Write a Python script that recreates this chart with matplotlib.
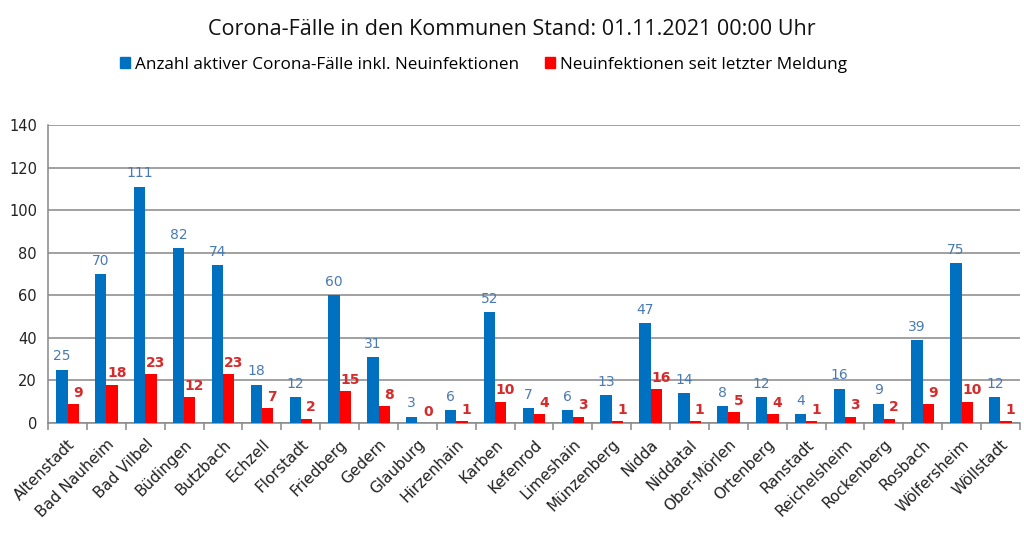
import matplotlib
matplotlib.use("Agg")
import matplotlib.pyplot as plt
import numpy as np
from matplotlib.patches import Patch

categories = ["Altenstadt", "Bad Nauheim", "Bad Vilbel", "Büdingen", "Butzbach", "Echzell",
              "Florstadt", "Friedberg", "Gedern", "Glauburg", "Hirzenhain", "Karben",
              "Kefenrod", "Limeshain", "Münzenberg", "Nidda", "Niddatal", "Ober-Mörlen",
              "Ortenberg", "Ranstadt", "Reichelsheim", "Rockenberg", "Rosbach",
              "Wölfersheim", "Wöllstadt"]
active = [25, 70, 111, 82, 74, 18, 12, 60, 31, 3, 6, 52, 7, 6, 13, 47, 14, 8, 12, 4, 16, 9, 39, 75, 12]
new = [9, 18, 23, 12, 23, 7, 2, 15, 8, 0, 1, 10, 4, 3, 1, 16, 1, 5, 4, 1, 3, 2, 9, 10, 1]
yticks = [0, 20, 40, 60, 80, 100, 120, 140]

title = "Corona-Fälle in den Kommunen Stand: 01.11.2021 00:00 Uhr"
legend_labels = ["Anzahl aktiver Corona-Fälle inkl. Neuinfektionen", "Neuinfektionen seit letzter Meldung"]

blue = "#0070C0"
red = "#FF0000"

fig = plt.figure(figsize=(10.24, 5.34), dpi=100)
ax = fig.add_axes([0.047, 0.208, 0.949, 0.558])

x = np.arange(len(categories))
w = 0.29
ax.bar(x - w / 2, active, width=w, color=blue, zorder=3)
ax.bar(x + w / 2, new, width=w, color=red, zorder=3)

for xi, v in zip(x, active):
    ax.text(xi - w / 2, v + 3, str(v), ha="center", va="bottom", color="#4A7AB2",
            fontsize=10, family="DejaVu Sans")
for xi, v in zip(x, new):
    ax.text(xi + w / 2 + 0.12, v + 2, str(v), ha="center", va="bottom", color="#D42B2B",
            fontsize=10, fontweight="bold", family="DejaVu Sans")

ax.set_xlim(-0.5, len(categories) - 0.5)
ax.set_ylim(0, 140)
ax.set_yticks(yticks)
ax.tick_params(axis="y", length=0, labelsize=10.5, colors="#222222", pad=8)
ax.yaxis.grid(True, color="#888888", linewidth=1.1, zorder=0)
ax.set_axisbelow(True)

ax.set_xticks(np.arange(len(categories) + 1) - 0.5, minor=False)
ax.set_xticklabels([])
ax.tick_params(axis="x", which="major", length=5, color="#888888", width=1.1)
ax.set_xticks(x, minor=True)
ax.set_xticklabels(categories, minor=True, rotation=45, ha="right", rotation_mode="anchor",
                   fontsize=11, color="#222222", family="DejaVu Sans")
ax.tick_params(axis="x", which="minor", length=0, pad=10)

for s in ["top", "right"]:
    ax.spines[s].set_visible(False)
ax.spines["left"].set_color("#888888")
ax.spines["bottom"].set_color("#888888")
ax.spines["left"].set_linewidth(1.1)
ax.spines["bottom"].set_linewidth(1.1)

fig.text(0.5, 0.945, title, ha="center", va="center", fontsize=15.5, family="Open Sans", color="#111111")
handles = [Patch(color=blue), Patch(color=red)]
fig.legend(handles, legend_labels, loc="center", bbox_to_anchor=(0.472, 0.879), ncol=2, frameon=False,
           handlelength=0.6, handleheight=0.6, handletextpad=0.3, columnspacing=1.5,
           prop={"family": "Open Sans", "size": 12.3})

fig.savefig("out.png", dpi=100, facecolor="white")
